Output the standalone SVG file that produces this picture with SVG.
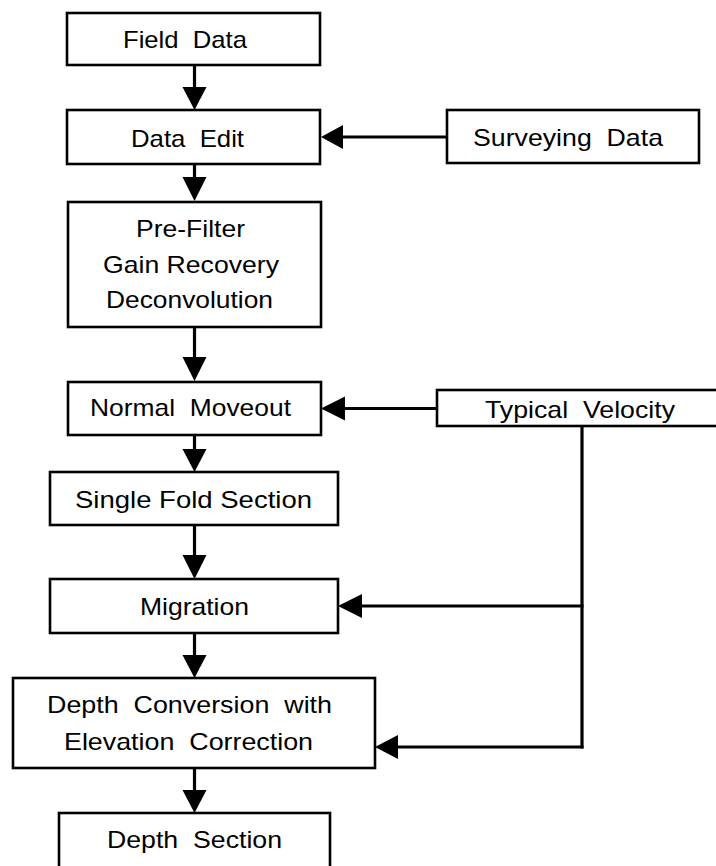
<svg xmlns="http://www.w3.org/2000/svg" width="716" height="866" viewBox="0 0 716 866">
<style>
.box{fill:#fff;stroke:#000;stroke-width:2.6}
.t{font-family:"Liberation Sans",Arial,sans-serif;font-size:24px;fill:#000;white-space:pre}
.c{stroke:#000;stroke-width:3.2;fill:none}
.h{fill:#000;stroke:none}
</style>
<rect width="716" height="866" fill="#fff"/>
<g id="connectors">
<line class="c" x1="194.5" y1="65" x2="194.5" y2="90"/>
<polygon class="h" points="182.5,87 206.5,87 194.5,110"/>
<line class="c" x1="194.5" y1="164" x2="194.5" y2="180"/>
<polygon class="h" points="182.5,177 206.5,177 194.5,201"/>
<line class="c" x1="194.5" y1="327" x2="194.5" y2="360"/>
<polygon class="h" points="182.5,357 206.5,357 194.5,381"/>
<line class="c" x1="194.5" y1="435" x2="194.5" y2="452"/>
<polygon class="h" points="182.5,449 206.5,449 194.5,472"/>
<line class="c" x1="194.5" y1="525" x2="194.5" y2="558"/>
<polygon class="h" points="182.5,555 206.5,555 194.5,579"/>
<line class="c" x1="194.5" y1="633" x2="194.5" y2="658"/>
<polygon class="h" points="182.5,655 206.5,655 194.5,678"/>
<line class="c" x1="194.5" y1="768" x2="194.5" y2="793"/>
<polygon class="h" points="182.5,790 206.5,790 194.5,813"/>
<line class="c" x1="447" y1="137" x2="340" y2="137"/>
<polygon class="h" points="343,125 343,149 321,137"/>
<line class="c" x1="437" y1="408.5" x2="342" y2="408.5"/>
<polygon class="h" points="345,396.5 345,420.5 321,408.5"/>
<line class="c" x1="582" y1="426" x2="582" y2="748.5"/>
<line class="c" x1="583.5" y1="606" x2="359" y2="606"/>
<polygon class="h" points="362,594 362,618 338,606"/>
<line class="c" x1="583.5" y1="747" x2="395" y2="747"/>
<polygon class="h" points="398,735 398,759 375,747"/>
</g>
<g id="field-data">
<rect class="box" x="67" y="13" width="253" height="52"/>
<text class="t" x="123" y="48" textLength="124" lengthAdjust="spacingAndGlyphs" xml:space="preserve">Field  Data</text>
</g>
<g id="data-edit">
<rect class="box" x="67" y="110" width="253" height="54"/>
<text class="t" x="131" y="147" textLength="113" lengthAdjust="spacingAndGlyphs" xml:space="preserve">Data  Edit</text>
</g>
<g id="surveying-data">
<rect class="box" x="447" y="110" width="252" height="53"/>
<text class="t" x="473" y="146" textLength="190" lengthAdjust="spacingAndGlyphs" xml:space="preserve">Surveying  Data</text>
</g>
<g id="preprocess">
<rect class="box" x="68" y="202" width="253" height="125"/>
<text class="t" x="136" y="237" textLength="109" lengthAdjust="spacingAndGlyphs">Pre-Filter</text>
<text class="t" x="103" y="273" textLength="176" lengthAdjust="spacingAndGlyphs">Gain Recovery</text>
<text class="t" x="106" y="308" textLength="167" lengthAdjust="spacingAndGlyphs">Deconvolution</text>
</g>
<g id="normal-moveout">
<rect class="box" x="68" y="382" width="253" height="53"/>
<text class="t" x="90" y="416" textLength="201" lengthAdjust="spacingAndGlyphs" xml:space="preserve">Normal  Moveout</text>
</g>
<g id="typical-velocity">
<rect class="box" x="437" y="390" width="290" height="36"/>
<text class="t" x="485" y="418" textLength="190" lengthAdjust="spacingAndGlyphs" xml:space="preserve">Typical  Velocity</text>
</g>
<g id="single-fold-section">
<rect class="box" x="50" y="472" width="288" height="53"/>
<text class="t" x="75" y="508" textLength="237" lengthAdjust="spacingAndGlyphs">Single Fold Section</text>
</g>
<g id="migration">
<rect class="box" x="50" y="579" width="288" height="54"/>
<text class="t" x="140" y="615" textLength="109" lengthAdjust="spacingAndGlyphs">Migration</text>
</g>
<g id="depth-conversion">
<rect class="box" x="13" y="678" width="362" height="90"/>
<text class="t" x="47" y="713" textLength="285" lengthAdjust="spacingAndGlyphs" xml:space="preserve">Depth  Conversion  with</text>
<text class="t" x="64" y="750" textLength="249" lengthAdjust="spacingAndGlyphs" xml:space="preserve">Elevation  Correction</text>
</g>
<g id="depth-section">
<rect class="box" x="59" y="813" width="271" height="70"/>
<text class="t" x="107" y="848" textLength="175" lengthAdjust="spacingAndGlyphs" xml:space="preserve">Depth  Section</text>
</g>
</svg>
